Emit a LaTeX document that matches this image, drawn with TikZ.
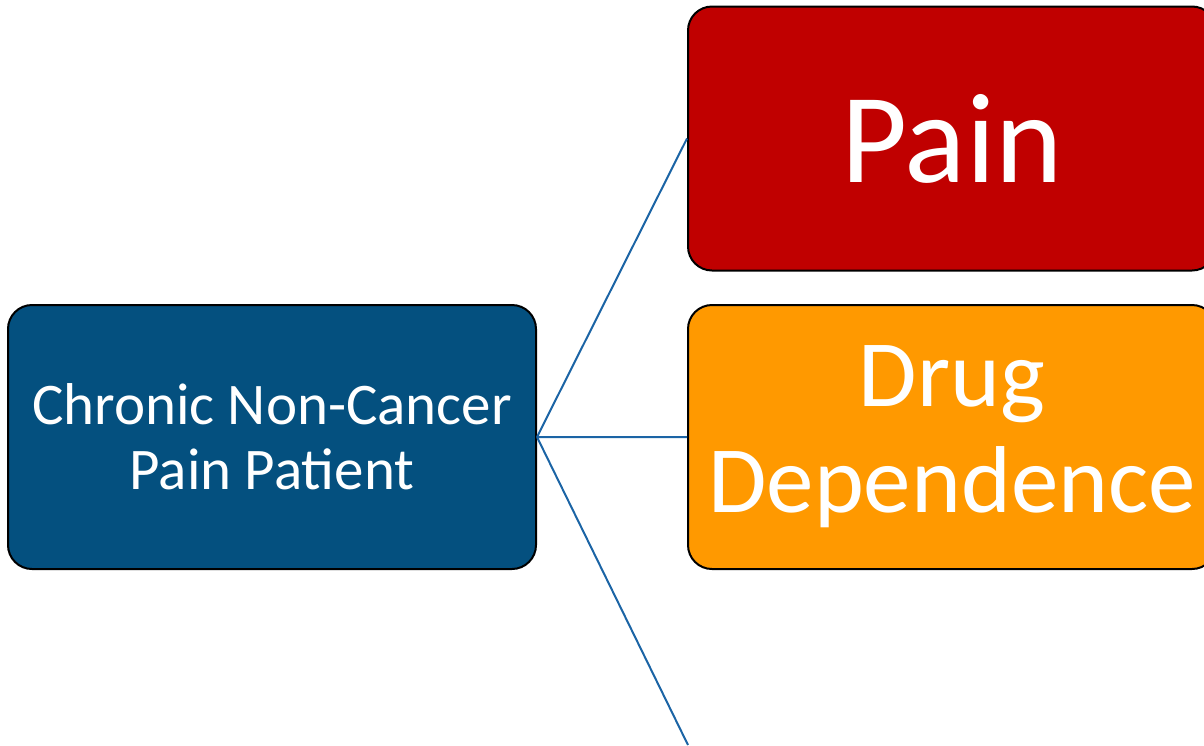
\documentclass[tikz,border=0pt]{standalone}
\usepackage{fontspec}
\setmainfont{Carlito}
\definecolor{patientblue}{HTML}{04507F}
\definecolor{painred}{HTML}{C00000}
\definecolor{drugorange}{HTML}{FF9900}
\definecolor{linkblue}{HTML}{1B64A5}

\begin{document}
\begin{tikzpicture}[x=0.5pt,y=-0.5pt]
  \tikzset{box/.style={draw=black,line width=1pt,rounded corners=12pt,
      minimum width=264pt,minimum height=132pt,text=white,align=center,inner sep=0pt},
    link/.style={draw=linkblue,line width=1pt}}
  \useasboundingbox (0,0) rectangle (1204,745);
  \clip (0,0) rectangle (1204,745);
  \node[box,fill=patientblue,font=\fontsize{29.5}{32.5}\selectfont] (patient) at (272, 437)
    {Chronic Non-Cancer\\Pain Patient};
  \node[box,fill=painred,font=\fontsize{64}{77}\selectfont]         (pain)    at (952, 138.5)
    {Pain};
  \node[box,fill=drugorange,font=\fontsize{47.5}{53}\selectfont]    (drug)    at (952, 437)
    {Drug\\Dependence};
  \coordinate (third) at (688, 745);
  \path[link] (patient.east) -- (pain.west)
              (patient.east) -- (drug.west)
              (patient.east) -- (third);
\end{tikzpicture}
\end{document}
